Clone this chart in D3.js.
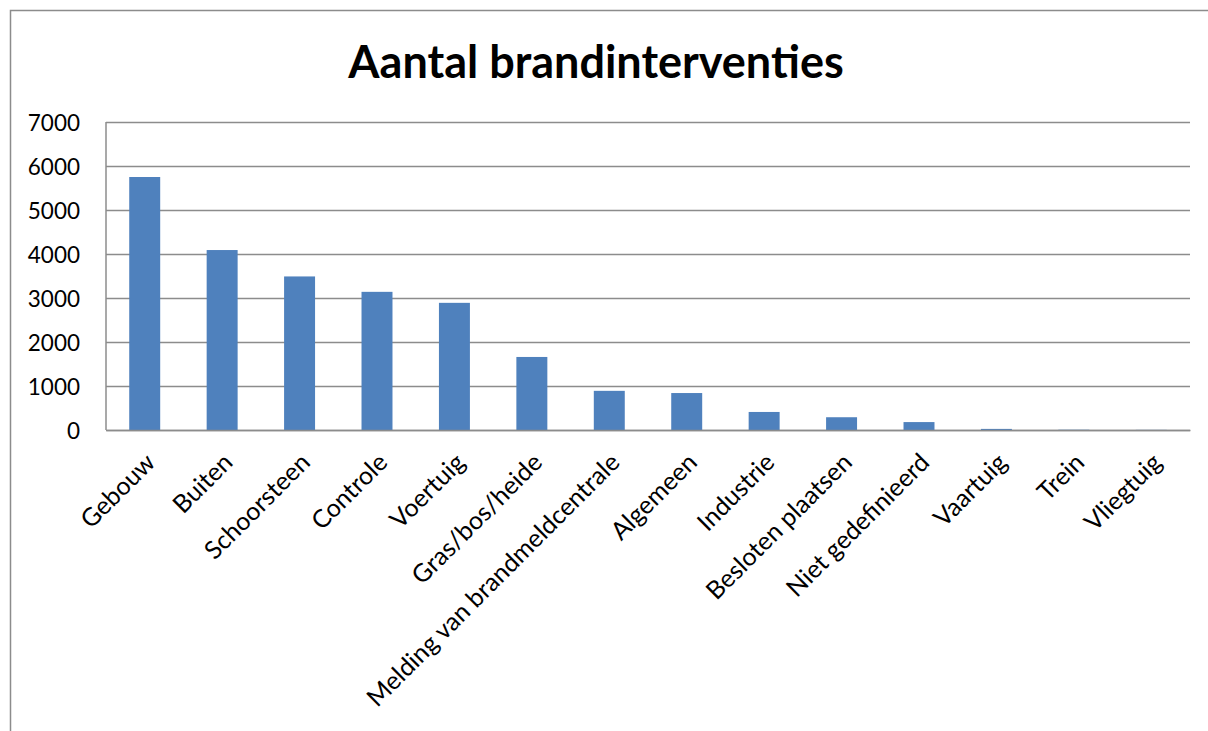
<!DOCTYPE html>
<html><head><meta charset="utf-8">
<script src="https://cdn.jsdelivr.net/npm/d3@7"></script>
<style>body{margin:0;background:#fff;} svg{display:block;}</style>
</head><body>
<svg id="c" width="1208" height="731"></svg>
<script>
const categories = ["Gebouw","Buiten","Schoorsteen","Controle","Voertuig","Gras/bos/heide","Melding van brandmeldcentrale","Algemeen","Industrie","Besloten plaatsen","Niet gedefinieerd","Vaartuig","Trein","Vliegtuig"];
const values = [5750,4090,3490,3140,2890,1660,890,840,410,290,180,25,6,3];
const yTicks = [0,1000,2000,3000,4000,5000,6000,7000];
const title = "Aantal brandinterventies";

const svg = d3.select("#c");
const font = "Lato, 'Open Sans', sans-serif";
const L = 106, R = 1190, T = 122, B = 430;

svg.append("rect").attr("x",10.5).attr("y",10.5).attr("width",1300).attr("height",900)
  .attr("fill","none").attr("stroke","#8c8c8c").attr("stroke-width",1.5);

const x = d3.scaleBand().domain(categories).range([L,R]).paddingInner(0.6).paddingOuter(0.3);
const y = d3.scaleLinear().domain([0,7000]).range([B,T]);

// gridlines
const yAxis = d3.axisLeft(y).tickValues(yTicks).tickSize(-(R-L)).tickPadding(26).tickFormat(d3.format("d"));
const gy = svg.append("g").attr("transform",`translate(${L},0)`).call(yAxis);
gy.select(".domain").remove();
gy.selectAll(".tick line").attr("stroke","#8c8c8c").attr("stroke-width",1.5);
gy.selectAll(".tick text").attr("font-family",font).attr("font-size",22.5).attr("fill","#000").attr("dy","0.36em");

// bars
svg.append("g").selectAll("rect").data(values).join("rect")
  .attr("x",(d,i)=>x(categories[i]))
  .attr("width",x.bandwidth())
  .attr("y",d=>y(d))
  .attr("height",d=>B-y(d))
  .attr("fill","#4f81bd");

// axis lines
svg.append("line").attr("x1",L).attr("x2",L).attr("y1",T).attr("y2",B).attr("stroke","#8c8c8c").attr("stroke-width",1.5);

const xAxis = d3.axisBottom(x).tickSize(0).tickPadding(0);
const gx = svg.append("g").attr("transform",`translate(0,${B})`).call(xAxis);
gx.select(".domain").attr("stroke","#8c8c8c").attr("stroke-width",1.5);
gx.selectAll(".tick text")
  .attr("font-family",font).attr("font-size",25).attr("fill","#000")
  .attr("text-anchor","end").attr("dy",0).attr("y",0)
  .attr("transform","translate(12,34) rotate(-45)");

svg.append("text").attr("x",596).attr("y",78).attr("text-anchor","middle")
  .attr("font-family",font).attr("font-weight","bold").attr("font-size",45).text(title);
</script>
</body></html>
